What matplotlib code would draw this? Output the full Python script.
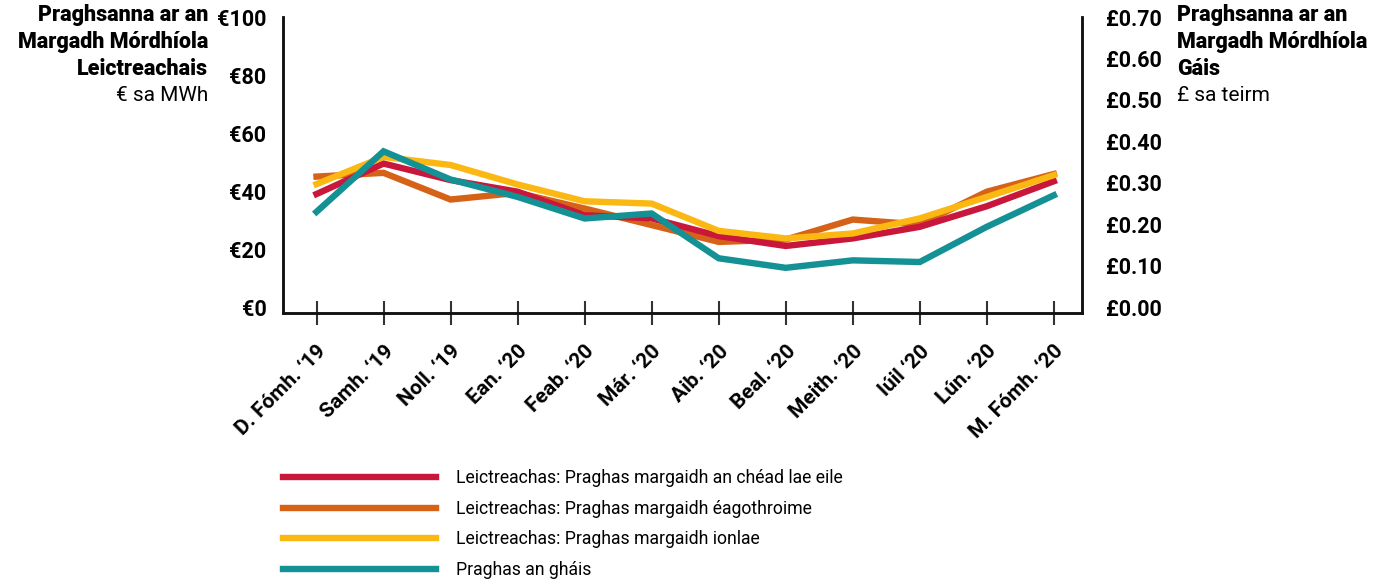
import matplotlib
matplotlib.use("Agg")
import matplotlib.pyplot as plt

plt.rcParams['font.family'] = ['Roboto', 'DejaVu Sans']

months = ['D. Fómh. ‘19', 'Samh. ‘19', 'Noll. ‘19', 'Ean. ‘20', 'Feab. ‘20', 'Már. ‘20',
          'Aib. ‘20', 'Beal. ‘20', 'Meith. ‘20', 'Iúil ‘20', 'Lún. ‘20', 'M. Fómh. ‘20']

# electricity prices, € per MWh
day_ahead = [39.0, 49.5, 43.8, 39.8, 31.7, 30.6, 24.5, 21.1, 23.7, 27.7, 34.8, 43.4]
balancing = [45.0, 46.3, 37.1, 39.4, 34.0, 28.3, 22.5, 23.3, 30.2, 28.5, 39.8, 45.9]
intraday = [42.4, 51.8, 49.0, 42.3, 36.5, 35.7, 26.3, 23.7, 25.4, 30.6, 38.0, 45.5]
# gas price, £ per therm
gas = [0.230, 0.376, 0.308, 0.266, 0.214, 0.226, 0.118, 0.095, 0.113, 0.109, 0.194, 0.270]

labels = ['Leictreachas: Praghas margaidh an chéad lae eile',
          'Leictreachas: Praghas margaidh éagothroime',
          'Leictreachas: Praghas margaidh ionlae',
          'Praghas an gháis']
colors = ['#c8173a', '#d66218', '#fbb812', '#149194']

W, H = 1392, 583
fig = plt.figure(figsize=(W / 100, H / 100), dpi=100)
ax = fig.add_axes([283 / W, 1 - 313 / H, (1082 - 283) / W, (313 - 17) / H])
ax2 = ax.twinx()

x = list(range(len(months)))
lw = 4.6
l1, = ax.plot(x, day_ahead, color=colors[0], lw=lw, solid_joinstyle='miter', zorder=3)
l2, = ax.plot(x, balancing, color=colors[1], lw=lw, solid_joinstyle='miter', zorder=2)
l3, = ax.plot(x, intraday, color=colors[2], lw=lw, solid_joinstyle='miter', zorder=4)
l4, = ax2.plot(x, gas, color=colors[3], lw=lw, solid_joinstyle='miter', zorder=5)

ax.set_xlim(-0.5, 11.42)
ax.set_ylim(-2, 100)
ax2.set_ylim(-0.014, 0.70)

ax.set_yticks([0, 20, 40, 60, 80, 100])
ax.set_yticklabels(['€0', '€20', '€40', '€60', '€80', '€100'])
ax2.set_yticks([0, 0.1, 0.2, 0.3, 0.4, 0.5, 0.6, 0.7])
ax2.set_yticklabels(['£%.2f' % v for v in ax2.get_yticks()])

ax.set_xticks(x)
ax.set_xticklabels(months, rotation=45, ha='right', rotation_mode='anchor',
                   fontsize=15, fontweight='bold')

for a in (ax, ax2):
    a.spines['top'].set_visible(False)
    for s in ('left', 'right', 'bottom'):
        a.spines[s].set_linewidth(1.8)
        a.spines[s].set_color('#111111')
    a.tick_params(axis='y', length=0, labelsize=15.5)
    a.patch.set_visible(False)
ax.tick_params(axis='y', pad=12)
ax2.tick_params(axis='y', pad=17)
for t in ax.get_yticklabels() + ax2.get_yticklabels():
    t.set_fontweight('bold')
ax.tick_params(axis='x', direction='inout', length=17, width=1.5, color='#333333', pad=12)

# axis titles
fig.text(208 / W, 1 - 4 / H, 'Praghsanna ar an\nMargadh Mórdhíola\nLeictreachais',
         ha='right', va='top', fontsize=15.5, fontweight='black', linespacing=1.3)
fig.text(208 / W, 1 - 86 / H, '€ sa MWh', ha='right', va='top', fontsize=15)
fig.text(1177 / W, 1 - 4 / H, 'Praghsanna ar an\nMargadh Mórdhíola\nGáis',
         ha='left', va='top', fontsize=15.5, fontweight='black', linespacing=1.3)
fig.text(1177 / W, 1 - 86 / H, '£ sa teirm', ha='left', va='top', fontsize=15)

fig.legend([l1, l2, l3, l4], labels, loc='upper left',
           bbox_to_anchor=(283 / W, 1 - 469 / H), frameon=False, fontsize=12.7,
           handlelength=8.7, handletextpad=1.1, labelspacing=0.72, borderpad=0,
           borderaxespad=0)

fig.savefig('out.png', dpi=100)
